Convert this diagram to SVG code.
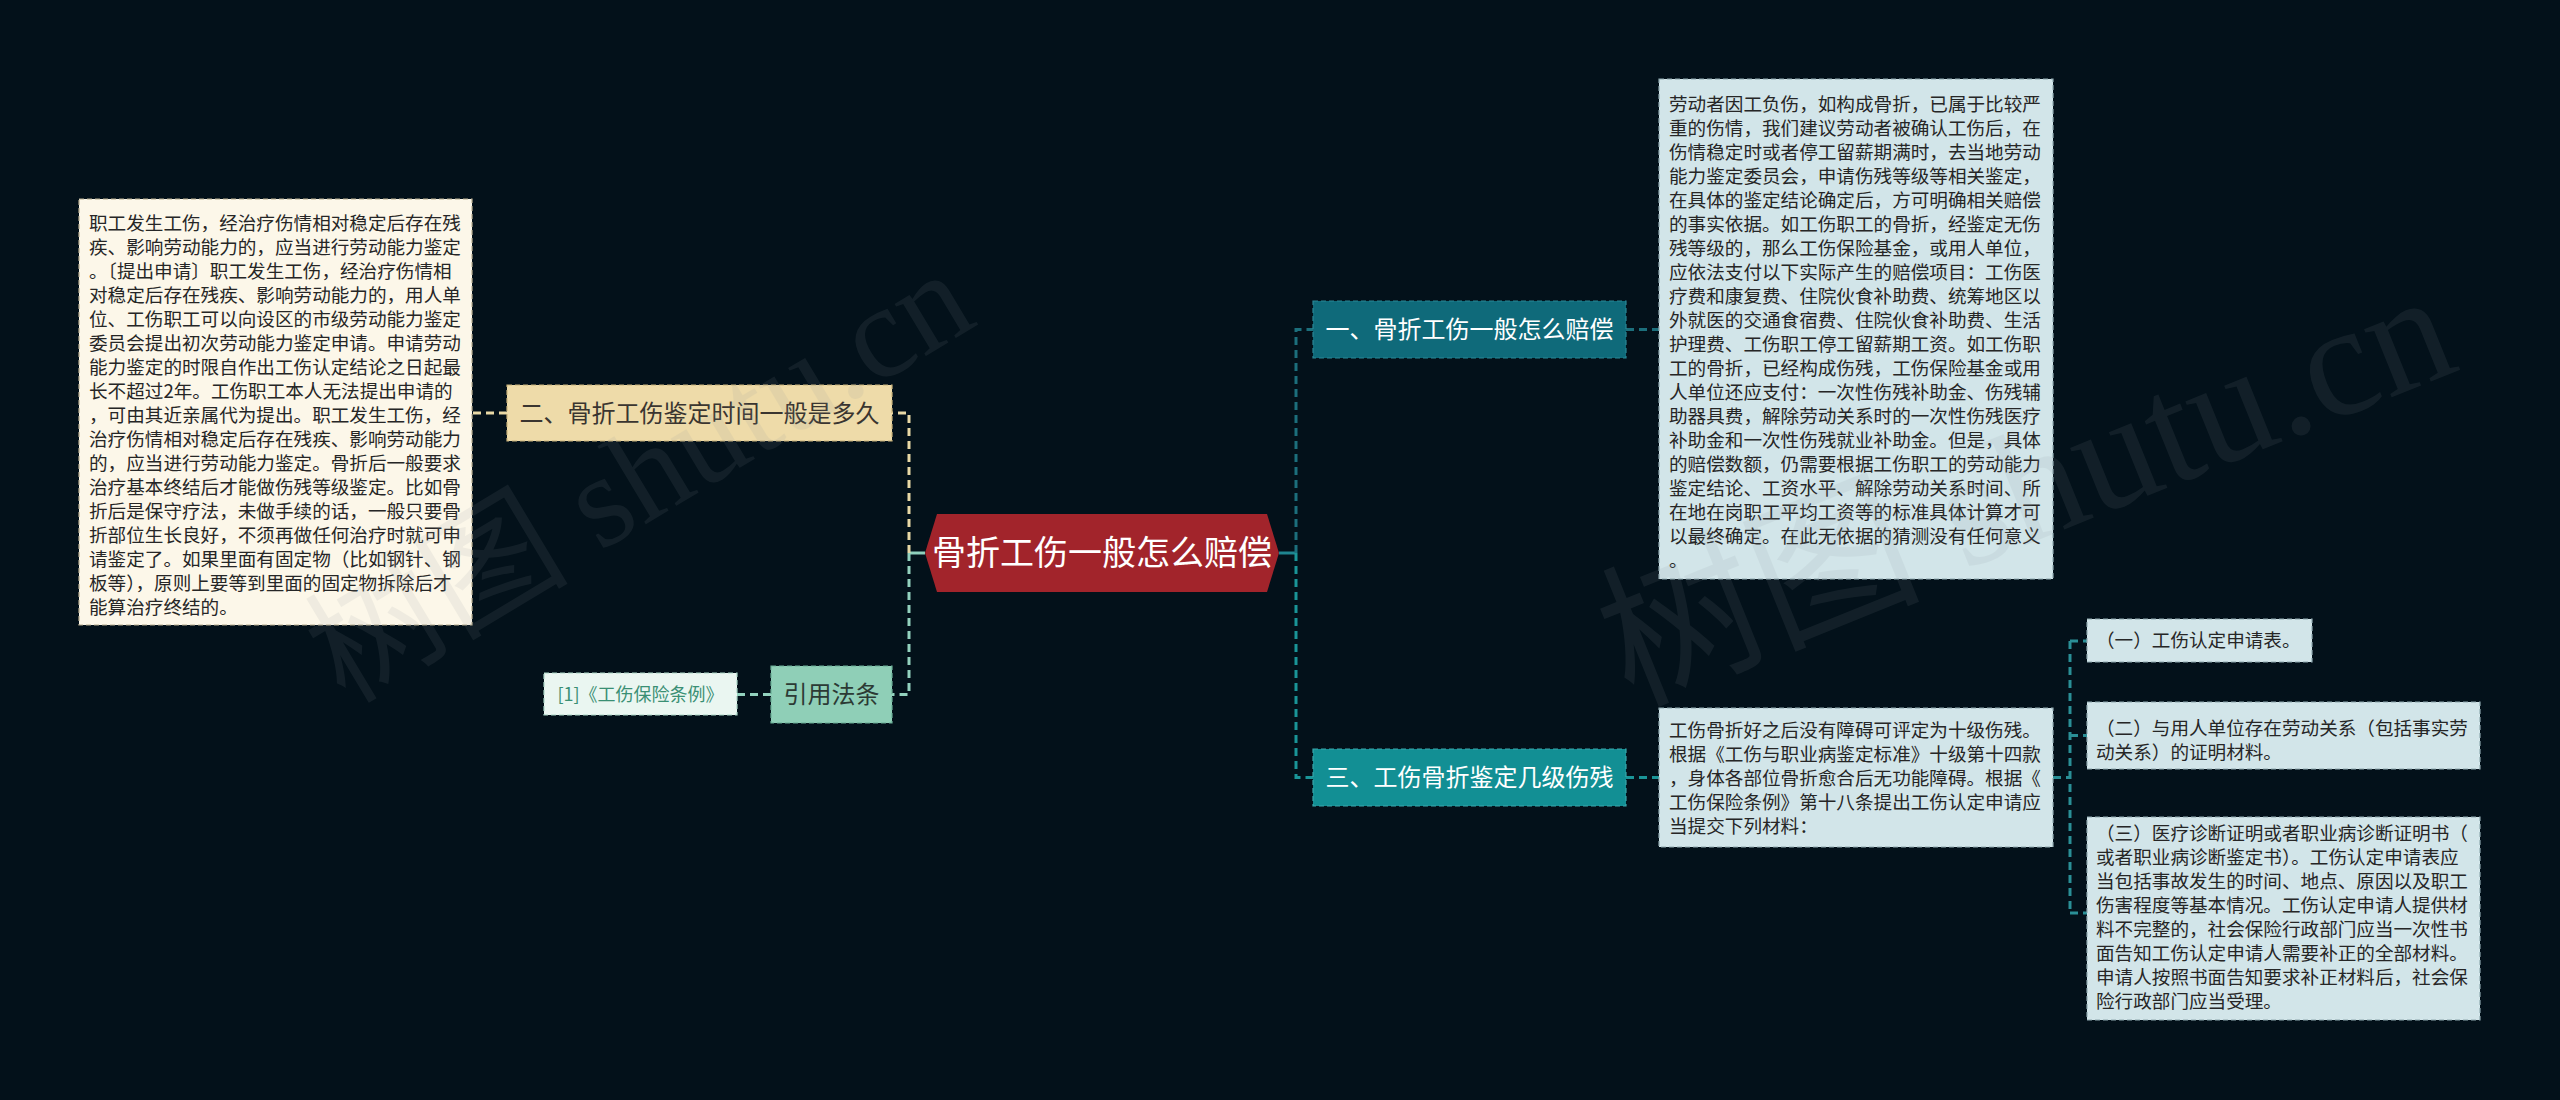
<svg xmlns="http://www.w3.org/2000/svg" width="2560" height="1100" viewBox="0 0 2560 1100">
<style>
text{font-family:"Noto Sans CJK SC","Noto Sans",sans-serif}
.body{font-size:18.6px;fill:#262626}
.lbl{font-size:24px;text-anchor:middle}
.conn{fill:none;stroke-width:3;stroke-dasharray:8 5}
.box{stroke-width:1.2;stroke-dasharray:5 3}
.wm{font-family:"Liberation Serif","Noto Sans CJK SC",serif;fill:#8a949a;opacity:0.11}
</style>
<rect width="2560" height="1100" fill="#03111a"/>

<g id="connectors">
  <path d="M1279 553 H1296" stroke="#1f8590" stroke-width="3" fill="none"/>
  <path class="conn" d="M1296 553 V329.5 H1313" stroke="#1c6f7c"/>
  <path class="conn" d="M1296 553 V777.5 H1313" stroke="#1a9598"/>
  <path class="conn" d="M1626 329.5 H1659" stroke="#1c6f7c"/>
  <path class="conn" d="M1626 777.5 H1659" stroke="#1a9598"/>
  <path class="conn" d="M2053 777.5 H2070 M2070 641 V913 M2070 641 H2087 M2070 735.5 H2087 M2070 913 H2087" stroke="#2a8f96"/>
  <path d="M925 553 H909" stroke="#8fd0bc" stroke-width="3" fill="none"/>
  <path class="conn" d="M909 553 V413 H892" stroke="#e9d9a6"/>
  <path class="conn" d="M909 553 V694.5 H892" stroke="#93d2be"/>
  <path class="conn" d="M507 413 H472" stroke="#e9d9a6"/>
  <path class="conn" d="M771 694.5 H737" stroke="#93d2be"/>
</g>

<g id="center">
  <polygon points="925,553 937,514 1267,514 1279,553 1267,592 937,592" fill="#a2242b"/>
  <text x="1102" y="565" style="font-size:34px;text-anchor:middle;fill:#ffffff">骨折工伤一般怎么赔偿</text>
</g>

<g id="n1">
  <rect class="box" x="1313" y="301" width="313" height="57" fill="#0f6a7a" stroke="#2a8796"/>
  <text class="lbl" x="1469.5" y="338" fill="#ffffff">一、骨折工伤一般怎么赔偿</text>
</g>

<g id="n3">
  <rect class="box" x="1313" y="749" width="313" height="57" fill="#128f94" stroke="#3aa7ab"/>
  <text class="lbl" x="1469.5" y="786" fill="#ffffff">三、工伤骨折鉴定几级伤残</text>
</g>

<g id="n2">
  <rect class="box" x="507" y="385" width="385" height="56" fill="#eedba9" stroke="#c8b27a"/>
  <text class="lbl" x="699.5" y="421.5" fill="#3a3530">二、骨折工伤鉴定时间一般是多久</text>
</g>

<g id="law">
  <rect class="box" x="771" y="666" width="121" height="57" fill="#8fcfb7" stroke="#6aae96"/>
  <text class="lbl" x="831.5" y="703" fill="#2c3a34">引用法条</text>
</g>

<g id="ref">
  <rect class="box" x="544" y="673" width="193" height="42" fill="#eaf6f1" stroke="#a9d6c6"/>
  <text x="640.5" y="700.5" style="font-size:18px;text-anchor:middle;fill:#3a8f74">[1]《工伤保险条例》</text>
</g>

<g id="box-left">
  <rect class="box" x="79" y="199" width="393" height="426" fill="#fcf7e9" stroke="#b8ad90"/>
  <text class="body" x="89">
    <tspan x="89" y="230">职工发生工伤，经治疗伤情相对稳定后存在残</tspan>
    <tspan x="89" y="254">疾、影响劳动能力的，应当进行劳动能力鉴定</tspan>
    <tspan x="89" y="278">。〔提出申请〕职工发生工伤，经治疗伤情相</tspan>
    <tspan x="89" y="302">对稳定后存在残疾、影响劳动能力的，用人单</tspan>
    <tspan x="89" y="326">位、工伤职工可以向设区的市级劳动能力鉴定</tspan>
    <tspan x="89" y="350">委员会提出初次劳动能力鉴定申请。申请劳动</tspan>
    <tspan x="89" y="374">能力鉴定的时限自作出工伤认定结论之日起最</tspan>
    <tspan x="89" y="398">长不超过2年。工伤职工本人无法提出申请的</tspan>
    <tspan x="89" y="422">，可由其近亲属代为提出。职工发生工伤，经</tspan>
    <tspan x="89" y="446">治疗伤情相对稳定后存在残疾、影响劳动能力</tspan>
    <tspan x="89" y="470">的，应当进行劳动能力鉴定。骨折后一般要求</tspan>
    <tspan x="89" y="494">治疗基本终结后才能做伤残等级鉴定。比如骨</tspan>
    <tspan x="89" y="518">折后是保守疗法，未做手续的话，一般只要骨</tspan>
    <tspan x="89" y="542">折部位生长良好，不须再做任何治疗时就可申</tspan>
    <tspan x="89" y="566">请鉴定了。如果里面有固定物（比如钢针、钢</tspan>
    <tspan x="89" y="590">板等），原则上要等到里面的固定物拆除后才</tspan>
    <tspan x="89" y="614">能算治疗终结的。</tspan>
  </text>
</g>

<g id="box1">
  <rect class="box" x="1659" y="79" width="394" height="500" fill="#d2e5e9" stroke="#8fa9b0"/>
  <text class="body">
    <tspan x="1669" y="110.5">劳动者因工负伤，如构成骨折，已属于比较严</tspan>
    <tspan x="1669" y="134.5">重的伤情，我们建议劳动者被确认工伤后，在</tspan>
    <tspan x="1669" y="158.5">伤情稳定时或者停工留薪期满时，去当地劳动</tspan>
    <tspan x="1669" y="182.5">能力鉴定委员会，申请伤残等级等相关鉴定，</tspan>
    <tspan x="1669" y="206.5">在具体的鉴定结论确定后，方可明确相关赔偿</tspan>
    <tspan x="1669" y="230.5">的事实依据。如工伤职工的骨折，经鉴定无伤</tspan>
    <tspan x="1669" y="254.5">残等级的，那么工伤保险基金，或用人单位，</tspan>
    <tspan x="1669" y="278.5">应依法支付以下实际产生的赔偿项目：工伤医</tspan>
    <tspan x="1669" y="302.5">疗费和康复费、住院伙食补助费、统筹地区以</tspan>
    <tspan x="1669" y="326.5">外就医的交通食宿费、住院伙食补助费、生活</tspan>
    <tspan x="1669" y="350.5">护理费、工伤职工停工留薪期工资。如工伤职</tspan>
    <tspan x="1669" y="374.5">工的骨折，已经构成伤残，工伤保险基金或用</tspan>
    <tspan x="1669" y="398.5">人单位还应支付：一次性伤残补助金、伤残辅</tspan>
    <tspan x="1669" y="422.5">助器具费，解除劳动关系时的一次性伤残医疗</tspan>
    <tspan x="1669" y="446.5">补助金和一次性伤残就业补助金。但是，具体</tspan>
    <tspan x="1669" y="470.5">的赔偿数额，仍需要根据工伤职工的劳动能力</tspan>
    <tspan x="1669" y="494.5">鉴定结论、工资水平、解除劳动关系时间、所</tspan>
    <tspan x="1669" y="518.5">在地在岗职工平均工资等的标准具体计算才可</tspan>
    <tspan x="1669" y="542.5">以最终确定。在此无依据的猜测没有任何意义</tspan>
    <tspan x="1669" y="566.5">。</tspan>
  </text>
</g>

<g id="box3">
  <rect class="box" x="1659" y="708" width="394" height="139" fill="#d2e5e9" stroke="#8fa9b0"/>
  <text class="body">
    <tspan x="1669" y="737">工伤骨折好之后没有障碍可评定为十级伤残。</tspan>
    <tspan x="1669" y="761">根据《工伤与职业病鉴定标准》十级第十四款</tspan>
    <tspan x="1669" y="785">，身体各部位骨折愈合后无功能障碍。根据《</tspan>
    <tspan x="1669" y="809">工伤保险条例》第十八条提出工伤认定申请应</tspan>
    <tspan x="1669" y="833">当提交下列材料：</tspan>
  </text>
</g>

<g id="sub1">
  <rect class="box" x="2087" y="619" width="225" height="43" fill="#d2e5e9" stroke="#8fa9b0"/>
  <text class="body" x="2096" y="647">（一）工伤认定申请表。</text>
</g>

<g id="sub2">
  <rect class="box" x="2087" y="702" width="393" height="67" fill="#d2e5e9" stroke="#8fa9b0"/>
  <text class="body">
    <tspan x="2096" y="735">（二）与用人单位存在劳动关系（包括事实劳</tspan>
    <tspan x="2096" y="759">动关系）的证明材料。</tspan>
  </text>
</g>

<g id="sub3">
  <rect class="box" x="2087" y="817" width="393" height="203" fill="#d2e5e9" stroke="#8fa9b0"/>
  <text class="body">
    <tspan x="2096" y="840">（三）医疗诊断证明或者职业病诊断证明书（</tspan>
    <tspan x="2096" y="864">或者职业病诊断鉴定书）。工伤认定申请表应</tspan>
    <tspan x="2096" y="888">当包括事故发生的时间、地点、原因以及职工</tspan>
    <tspan x="2096" y="912">伤害程度等基本情况。工伤认定申请人提供材</tspan>
    <tspan x="2096" y="936">料不完整的，社会保险行政部门应当一次性书</tspan>
    <tspan x="2096" y="960">面告知工伤认定申请人需要补正的全部材料。</tspan>
    <tspan x="2096" y="984">申请人按照书面告知要求补正材料后，社会保</tspan>
    <tspan x="2096" y="1008">险行政部门应当受理。</tspan>
  </text>
</g>

<g id="watermark">
  <text class="wm" style="font-size:132px" transform="translate(345,705) rotate(-31)">树图 shutu.cn</text>
  <text class="wm" style="font-size:160px" transform="translate(1630,705) rotate(-22)">树图 shutu.cn</text>
</g>
</svg>
